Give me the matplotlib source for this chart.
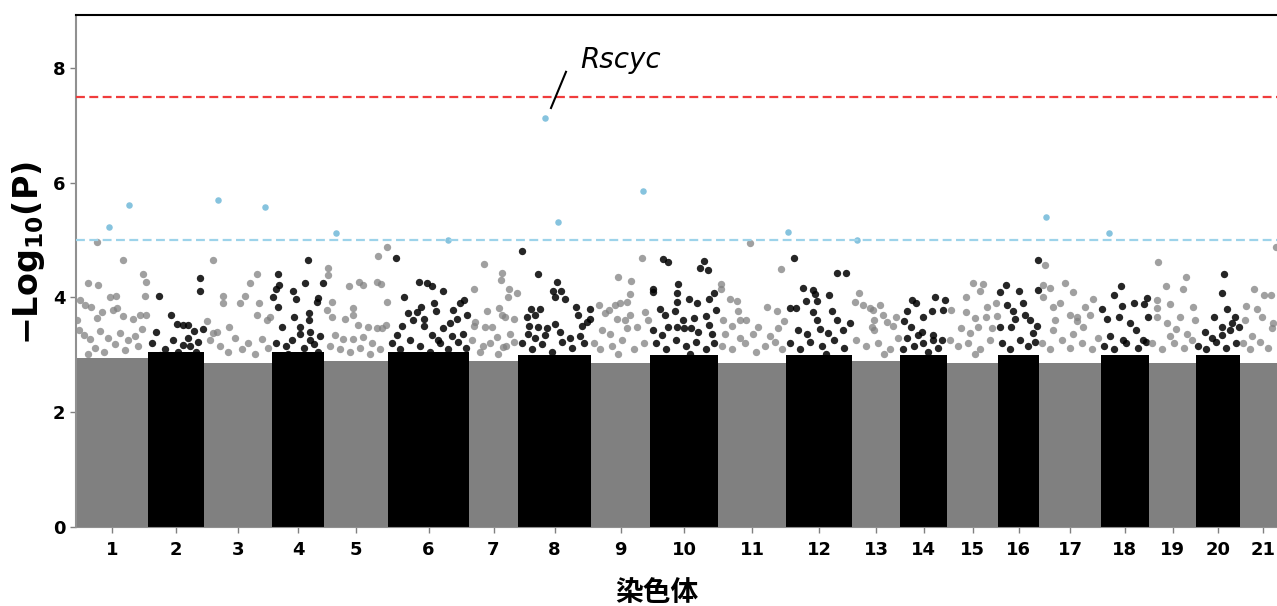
"""
Manhattan plot: -log10(P) by chromosome, with suggestive / genome-wide lines.
"""
import matplotlib
matplotlib.use("Agg")
import matplotlib.pyplot as plt

plt.rcParams["font.family"] = ["DejaVu Sans", "Noto Sans CJK JP"]

# chromosome lengths (Mb) and the top of the dense bulk of SNPs per chromosome
chrom_len = [144, 112, 136, 104, 128, 162, 98, 146, 118, 136, 136,
             132, 96, 94, 102, 82, 124, 96, 94, 88, 92]
bulk_top = [2.95, 3.05, 2.85, 3.05, 2.90, 3.05, 2.90, 3.00, 2.85, 3.00, 2.85,
            3.00, 2.90, 3.00, 2.85, 3.00, 2.85, 3.00, 2.85, 3.00, 2.85]

# SNPs above the bulk: (position in chromosome Mb, -log10 P)
top_snps = {
    1: [(42, 4.97), (94, 4.65), (134, 4.40), (24, 4.25), (44, 4.21), (140, 4.27), (68, 4.00),
        (80, 4.02), (138, 4.02), (8, 3.96), (18, 3.87), (30, 3.83), (52, 3.75), (74, 3.78),
        (82, 3.81), (42, 3.64), (94, 3.67), (114, 3.62), (128, 3.70), (140, 3.70), (2, 3.60),
        (6, 3.43), (16, 3.35), (28, 3.28), (48, 3.42), (64, 3.30), (88, 3.38), (104, 3.25),
        (118, 3.32), (132, 3.45), (38, 3.12), (78, 3.18), (98, 3.08), (124, 3.15), (56, 3.05),
        (24, 3.02)],
    2: [(104, 4.33), (104, 4.12), (22, 4.03), (46, 3.70), (58, 3.53), (70, 3.52), (80, 3.52),
        (92, 3.41), (80, 3.30), (110, 3.45), (16, 3.40), (50, 3.25), (70, 3.17), (8, 3.20),
        (34, 3.10), (60, 3.05), (84, 3.15), (100, 3.22), (24, 3.00), (96, 3.05)],
    3: [(18, 4.66), (106, 4.41), (92, 4.25), (38, 4.03), (38, 3.90), (72, 3.90), (82, 4.02),
        (110, 3.90), (6, 3.59), (26, 3.40), (50, 3.48), (126, 3.61), (132, 3.66), (106, 3.69),
        (18, 3.38), (12, 3.25), (32, 3.15), (62, 3.30), (88, 3.20), (116, 3.28), (48, 3.05),
        (102, 3.02), (76, 3.10), (128, 3.12)],
    4: [(12, 4.41), (8, 4.15), (72, 4.65), (66, 4.25), (102, 4.25), (2, 4.01), (42, 4.11),
        (48, 3.98), (92, 3.99), (90, 3.92), (12, 3.83), (44, 3.66), (74, 3.72), (74, 3.61),
        (20, 3.49), (56, 3.49), (56, 3.37), (76, 3.40), (76, 3.26), (96, 3.32), (14, 4.22),
        (8, 3.20), (28, 3.15), (40, 3.25), (64, 3.12), (84, 3.18), (32, 3.02), (92, 3.05)],
    5: [(8, 4.51), (8, 4.39), (50, 4.20), (70, 4.26), (78, 4.21), (106, 4.26), (114, 4.24),
        (108, 4.73), (126, 4.88), (16, 3.92), (126, 3.92), (6, 3.78), (16, 3.66), (42, 3.62),
        (58, 3.82), (58, 3.69), (68, 3.52), (88, 3.49), (106, 3.46), (116, 3.46), (124, 3.52),
        (22, 3.34), (38, 3.28), (58, 3.28), (78, 3.31), (12, 3.15), (32, 3.10), (52, 3.05),
        (72, 3.12), (96, 3.20), (112, 3.10), (92, 3.02)],
    6: [(16, 4.69), (62, 4.27), (78, 4.25), (88, 4.20), (110, 4.11), (32, 4.00), (66, 3.83),
        (92, 3.90), (96, 3.77), (130, 3.78), (144, 3.90), (152, 3.95), (158, 3.69), (40, 3.72),
        (50, 3.61), (58, 3.75), (72, 3.63), (72, 3.50), (28, 3.50), (18, 3.34), (110, 3.46),
        (124, 3.55), (138, 3.63), (88, 3.34), (100, 3.26), (128, 3.32), (150, 3.37), (8, 3.20),
        (24, 3.10), (44, 3.25), (64, 3.15), (84, 3.05), (104, 3.20), (120, 3.10), (140, 3.22),
        (156, 3.12)],
    7: [(30, 4.58), (66, 4.42), (64, 4.30), (10, 4.14), (80, 4.15), (96, 4.07), (78, 4.00),
        (36, 3.76), (60, 3.82), (66, 3.70), (72, 3.65), (90, 3.62), (12, 3.57), (32, 3.48),
        (46, 3.48), (56, 3.31), (82, 3.37), (28, 3.16), (68, 3.13), (10, 3.51), (6, 3.25),
        (22, 3.05), (42, 3.20), (58, 3.02), (74, 3.15), (90, 3.22)],
    8: [(8, 4.81), (40, 4.40), (78, 4.26), (70, 4.11), (86, 4.12), (74, 4.00), (94, 3.97),
        (116, 3.83), (120, 3.70), (144, 3.79), (144, 3.63), (138, 3.58), (26, 3.79), (44, 3.79),
        (18, 3.66), (34, 3.70), (22, 3.50), (40, 3.48), (58, 3.46), (74, 3.54), (128, 3.50),
        (20, 3.37), (34, 3.29), (54, 3.34), (104, 3.29), (124, 3.32), (8, 3.20), (28, 3.10),
        (48, 3.18), (68, 3.05), (88, 3.22), (108, 3.12), (132, 3.20), (84, 3.40)],
    9: [(102, 4.68), (54, 4.36), (80, 4.29), (78, 4.06), (48, 3.86), (58, 3.90), (72, 3.92),
        (16, 3.86), (28, 3.72), (36, 3.78), (52, 3.62), (68, 3.60), (78, 3.70), (22, 3.43),
        (38, 3.37), (72, 3.46), (92, 3.49), (108, 3.75), (114, 3.60), (6, 3.20), (18, 3.10),
        (42, 3.15), (62, 3.25), (86, 3.10), (106, 3.20), (54, 3.02)],
    10: [(26, 4.67), (36, 4.61), (6, 4.15), (6, 4.10), (108, 4.64), (100, 4.52), (116, 4.47),
         (56, 4.23), (54, 4.08), (54, 3.92), (128, 4.08), (118, 3.98), (78, 3.97), (94, 3.91),
         (132, 3.78), (50, 3.77), (66, 3.61), (88, 3.64), (112, 3.68), (118, 3.52), (54, 3.48),
         (68, 3.46), (82, 3.46), (96, 3.40), (124, 3.36), (6, 3.43), (24, 3.34), (36, 3.49),
         (20, 3.80), (30, 3.70), (12, 3.20), (32, 3.10), (52, 3.25), (72, 3.15), (92, 3.22),
         (112, 3.10), (128, 3.20), (80, 3.02)],
    11: [(64, 4.94), (126, 4.49), (6, 4.24), (6, 4.14), (24, 3.97), (38, 3.94), (40, 3.77),
         (98, 3.83), (118, 3.77), (10, 3.60), (44, 3.60), (56, 3.61), (28, 3.51), (80, 3.48),
         (120, 3.46), (132, 3.59), (14, 3.37), (44, 3.29), (70, 3.37), (104, 3.32), (8, 3.15),
         (28, 3.10), (54, 3.20), (76, 3.05), (94, 3.15), (114, 3.22), (128, 3.10)],
    12: [(16, 4.69), (102, 4.43), (120, 4.43), (34, 4.16), (54, 4.13), (58, 4.06), (62, 3.93),
         (86, 4.05), (40, 3.93), (20, 3.82), (8, 3.81), (54, 3.74), (62, 3.60), (92, 3.77),
         (102, 3.61), (114, 3.44), (24, 3.44), (42, 3.36), (68, 3.45), (84, 3.38), (128, 3.55),
         (8, 3.20), (28, 3.10), (48, 3.22), (72, 3.15), (96, 3.25), (116, 3.12), (80, 3.02)],
    13: [(14, 4.08), (6, 3.92), (22, 3.87), (36, 3.81), (44, 3.61), (40, 3.49), (56, 3.87),
         (42, 3.78), (62, 3.70), (70, 3.57), (82, 3.50), (44, 3.43), (88, 3.65), (8, 3.25),
         (28, 3.15), (52, 3.20), (76, 3.10), (92, 3.30), (64, 3.02)],
    14: [(70, 4.00), (90, 3.95), (24, 3.95), (32, 3.90), (14, 3.77), (64, 3.77), (46, 3.66),
         (86, 3.78), (8, 3.59), (22, 3.49), (44, 3.39), (66, 3.35), (84, 3.26), (14, 3.30),
         (46, 3.21), (66, 3.26), (6, 3.10), (28, 3.15), (56, 3.05), (76, 3.12), (36, 3.35)],
    15: [(52, 4.25), (72, 4.24), (38, 4.00), (66, 4.12), (98, 3.90), (8, 3.78), (38, 3.74),
         (56, 3.64), (80, 3.83), (100, 3.67), (78, 3.65), (28, 3.46), (46, 3.38), (62, 3.48),
         (90, 3.47), (6, 3.25), (22, 3.15), (42, 3.20), (66, 3.10), (86, 3.25), (56, 3.02)],
    16: [(80, 4.66), (16, 4.22), (4, 4.09), (42, 4.12), (50, 3.90), (80, 4.13), (18, 3.87),
         (30, 3.76), (34, 3.63), (4, 3.49), (26, 3.49), (78, 3.50), (70, 3.38), (54, 3.70),
         (64, 3.60), (8, 3.20), (24, 3.10), (44, 3.25), (60, 3.15), (74, 3.22)],
    17: [(12, 4.56), (8, 4.22), (22, 4.17), (8, 4.00), (52, 4.25), (68, 4.09), (28, 3.83),
         (32, 3.61), (28, 3.44), (62, 3.70), (76, 3.59), (108, 3.98), (92, 3.83), (76, 3.66),
         (88, 3.49), (68, 3.37), (42, 3.90), (102, 3.70), (6, 3.20), (22, 3.10), (46, 3.25),
         (62, 3.12), (86, 3.20), (106, 3.10), (118, 3.30)],
    18: [(40, 4.19), (26, 4.04), (92, 3.99), (66, 3.90), (86, 3.88), (42, 3.85), (12, 3.62),
         (36, 3.65), (58, 3.55), (94, 3.66), (70, 3.43), (18, 3.32), (44, 3.26), (84, 3.26),
         (2, 3.79), (6, 3.15), (26, 3.10), (50, 3.20), (74, 3.12), (90, 3.22)],
    19: [(18, 4.61), (74, 4.36), (34, 4.19), (68, 4.14), (16, 3.95), (16, 3.81), (42, 3.89),
         (88, 3.83), (16, 3.66), (36, 3.55), (62, 3.66), (92, 3.61), (42, 3.32), (76, 3.37),
         (54, 3.45), (6, 3.20), (26, 3.10), (50, 3.20), (70, 3.12), (86, 3.25)],
    20: [(56, 4.40), (52, 4.08), (62, 3.79), (78, 3.66), (36, 3.65), (52, 3.49), (68, 3.43),
         (86, 3.49), (52, 3.35), (18, 3.40), (32, 3.30), (72, 3.55), (4, 3.15), (20, 3.10),
         (40, 3.22), (60, 3.12), (80, 3.20)],
    21: [(72, 4.88), (28, 4.14), (48, 4.04), (62, 4.04), (12, 3.85), (34, 3.80), (44, 3.66),
         (66, 3.55), (64, 3.46), (24, 3.32), (10, 3.60), (6, 3.20), (20, 3.10), (40, 3.22),
         (56, 3.12)],
}

# SNPs over the suggestive threshold (drawn in blue)
hit_chr = [1, 1, 3, 3, 5, 6, 8, 8, 9, 12, 13, 17, 18]
hit_pos = [66, 106, 28, 122, 24, 120, 54, 80, 104, 4, 10, 14, 16]
hit_val = [5.23, 5.61, 5.70, 5.57, 5.13, 5.00, 7.13, 5.31, 5.85, 5.14, 5.00, 5.40, 5.13]

genome_wide = 7.5
suggestive = 5.0
gene_label = "Rscyc"

# cumulative offsets
starts = []
acc = 0
for L in chrom_len:
    starts.append(acc)
    acc += L
mids = [s + L / 2 for s, L in zip(starts, chrom_len)]

fig = plt.figure(figsize=(12.77, 6.06), dpi=100)
ax = fig.add_axes([76 / 1277, 1 - 527 / 606, 1 - 76 / 1277, 512 / 606])

for i, L in enumerate(chrom_len):
    col = "#808080" if i % 2 == 0 else "#000000"
    ax.bar(starts[i], bulk_top[i], width=L, align="edge", color=col,
           linewidth=0, zorder=1)
    xs = [starts[i] + p for p, v in top_snps[i + 1]]
    ys = [v for p, v in top_snps[i + 1]]
    if i % 2 == 0:
        ax.scatter(xs, ys, s=28, color="#808080", alpha=0.75, linewidths=0, zorder=2)
    else:
        ax.scatter(xs, ys, s=28, color="#000000", alpha=0.85, linewidths=0, zorder=2)

hx = [starts[c - 1] + p for c, p in zip(hit_chr, hit_pos)]
ax.scatter(hx, hit_val, s=22, color="#86c3de", linewidths=0, zorder=3)

ax.axhline(genome_wide, color="#f03c3c", lw=1.6, linestyle=(0, (4, 2)), zorder=4)
ax.axhline(suggestive, color="#9dd3ea", lw=1.6, linestyle=(0, (4, 2)), zorder=4)

# label the top hit
top = hit_val.index(max(hit_val))
tx, ty = hx[top], hit_val[top]
ax.plot([tx + 12, tx + 42], [ty + 0.17, ty + 0.8], color="black", lw=1.5, zorder=5)
ax.text(tx + 70, ty + 0.87, gene_label, fontsize=20, style="italic", va="baseline")

ax.set_xlim(0, (1277 - 76) * 2)
ax.set_ylim(0, 8.92)
ax.set_xticks(mids)
ax.set_xticklabels([str(i + 1) for i in range(len(chrom_len))])
ax.set_yticks([0, 2, 4, 6, 8])

for lbl in ax.get_xticklabels() + ax.get_yticklabels():
    lbl.set_fontweight("bold")
    lbl.set_fontsize(13)
ax.tick_params(axis="both", colors="#808080", labelcolor="black", length=4, width=1)
ax.tick_params(axis="x", pad=6)

ax.spines["right"].set_visible(False)
ax.spines["top"].set_color("black")
ax.spines["top"].set_linewidth(1.5)
ax.spines["left"].set_color("#909090")
ax.spines["left"].set_linewidth(1.5)
ax.spines["bottom"].set_color("#909090")

ax.set_ylabel("−Log$_{\\mathbf{10}}$(P)", fontsize=24, fontweight="bold")
ax.yaxis.set_label_coords(-0.024, 0.535)
ax.set_xlabel("染色体", fontsize=20, fontweight="bold", family="Noto Sans CJK JP")
ax.xaxis.set_label_coords((657 - 76) / (1277 - 76), -0.102)

plt.savefig("out.png", dpi=100)
